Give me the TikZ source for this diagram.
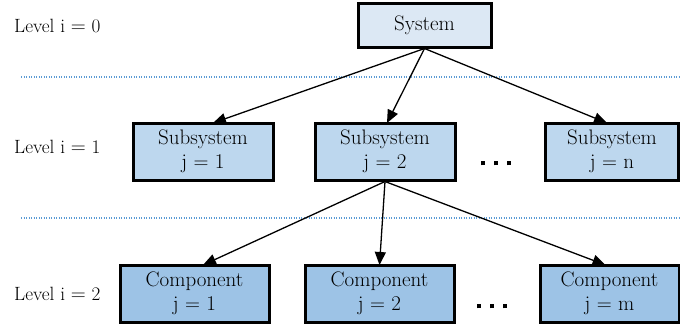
\documentclass[tikz,border=0pt]{standalone}
\usetikzlibrary{arrows.meta}
\definecolor{sysfill}{RGB}{220,232,244}
\definecolor{subfill}{RGB}{189,215,238}
\definecolor{compfill}{RGB}{157,195,230}
\definecolor{sepblue}{RGB}{91,155,213}
\tikzset{
  box/.style={draw=black, line width=3pt, inner sep=0pt, align=center,
    font=\fontsize{21}{24}\selectfont, minimum height=57pt},
  sysbox/.style={box, fill=sysfill, minimum width=133pt, minimum height=44pt},
  subbox/.style={box, fill=subfill, minimum width=140pt},
  compbox/.style={box, fill=compfill, minimum width=149pt},
  lvl/.style={anchor=base west, inner sep=0pt, font=\fontsize{19.2}{22}\selectfont},
  conn/.style={line width=1.3pt, -{Triangle[length=13pt,width=11pt]}},
  sep/.style={draw=sepblue, line width=1.1pt, dash pattern=on 1.4pt off 1.1pt},
  dotsq/.style={inner sep=0pt}
}
\begin{document}
\begin{tikzpicture}[x=1pt,y=-1pt]
\useasboundingbox (0,0) rectangle (680,330);
% separators
\coordinate (s1a) at (21,77); \coordinate (s1b) at (680,77);
\coordinate (s2a) at (21,218); \coordinate (s2b) at (680,218);
\draw[sep] (s1a) -- (s1b);
\draw[sep] (s2a) -- (s2b);
% level labels
\node[lvl] (l0) at (14,32) {Level i $=$ 0};
\node[lvl] (l1) at (14,153) {Level i $=$ 1};
\node[lvl] (l2) at (14,300) {Level i $=$ 2};
% nodes
\node[sysbox] (sys) at (424.5,25) {System};
\node[subbox] (sub1) at (203,151.5) {Subsystem\\j $=$ 1};
\node[subbox] (sub2) at (385,151.5) {Subsystem\\j $=$ 2};
\node[subbox, minimum width=133pt] (subn) at (612,151.5) {Subsystem\\j $=$ n};
\node[compbox] (c1) at (194.5,293.5) {Component\\j $=$ 1};
\node[compbox] (c2) at (379.5,293.5) {Component\\j $=$ 2};
\node[compbox, minimum width=139pt] (cm) at (609.5,293.5) {Component\\j $=$ m};
% ellipses
\node[dotsq] (dots1) at (496,163) {\rule{4.5pt}{4.5pt}\hspace{8.5pt}\rule{4.5pt}{4.5pt}\hspace{8.5pt}\rule{4.5pt}{4.5pt}};
\node[dotsq] (dots2) at (492,306) {\rule{4.5pt}{4.5pt}\hspace{8.5pt}\rule{4.5pt}{4.5pt}\hspace{8.5pt}\rule{4.5pt}{4.5pt}};
% connectors
\draw[conn] (sys.south) -- ([xshift=10pt,yshift=-1.5pt]sub1.north);
\draw[conn] (sys.south) -- ([xshift=2pt,yshift=-1.5pt]sub2.north);
\draw[conn] (sys.south) -- ([xshift=-5pt,yshift=-1.5pt]subn.north);
\draw[conn] (sub2.south) -- ([xshift=8.5pt,yshift=-1.5pt]c1.north);
\draw[conn] (sub2.south) -- ([yshift=-1.5pt]c2.north);
\draw[conn] (sub2.south) -- ([xshift=-4pt,yshift=-1.5pt]cm.north);
\end{tikzpicture}
\end{document}
